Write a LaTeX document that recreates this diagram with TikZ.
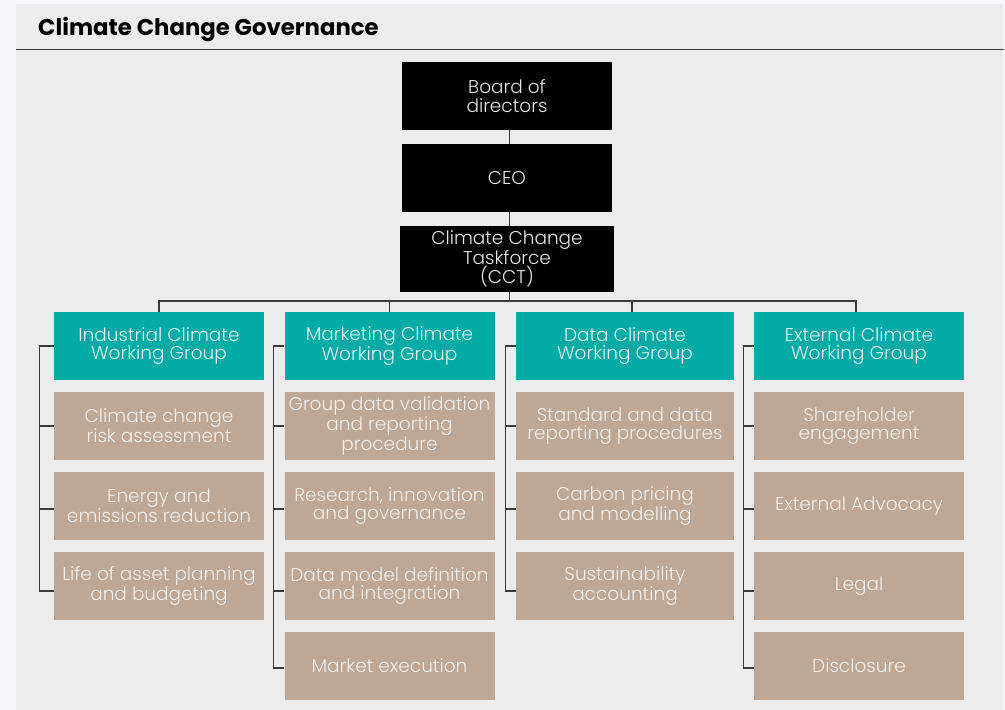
\documentclass[tikz,border=0pt]{standalone}
\usepackage{fontspec}
\setmainfont{Poppins}[UprightFont=* Light, BoldFont=* Bold]
\definecolor{outerbg}{HTML}{F7F7F9}
\definecolor{panelbg}{HTML}{ECECEC}
\definecolor{teal}{HTML}{00AAA5}
\definecolor{tan}{HTML}{BEA794}
\definecolor{linec}{HTML}{3A3A3A}
\definecolor{tantext}{HTML}{F3EEE9}
\definecolor{tealtext}{HTML}{E2F3F2}
\definecolor{blacktext}{HTML}{E8E8E8}
\tikzset{
  boxbase/.style={inner sep=0pt, align=center, font=\fontsize{18.5}{18.6}\selectfont},
  blackbox/.style={boxbase, fill=black, text=blacktext},
  groupbox/.style={boxbase, fill=teal, text=tealtext, minimum width=210pt, minimum height=68pt},
  taskbox/.style={boxbase, fill=tan, text=tantext, minimum width=210pt, minimum height=67.5pt},
  conn/.style={draw=linec, line width=1.2pt}
}
\begin{document}
\begin{tikzpicture}[x=1pt,y=-1pt]
\useasboundingbox (0,0) rectangle (1005,710);
\fill[outerbg] (0,0) rectangle (1005,710);
\fill[panelbg] (16,4) rectangle (1003,710);
\draw[linec, line width=1.3pt] (16,49.5) -- (1004,49.5);
\node[anchor=base west, inner sep=0pt, font=\bfseries\fontsize{22.8}{24}\selectfont] (title) at (38,35) {Climate Change Governance};

% top chain
\node[blackbox, minimum width=210pt, minimum height=67.5pt] (board) at (507,96) {Board of\\directors};
\node[blackbox, minimum width=210pt, minimum height=67.5pt] (ceo) at (507,178) {CEO};
\node[blackbox, minimum width=214pt, minimum height=66pt] (cct) at (507,259) {Climate Change\\Taskforce\\(CCT)};

% groups
\node[groupbox] (ind) at (159,346) {Industrial Climate\\Working Group};
\node[groupbox] (mkt) at (389.5,346) {Marketing Climate\\Working Group};
\node[groupbox, minimum width=218pt] (dat) at (625,346) {Data Climate\\Working Group};
\node[groupbox] (ext) at (859,346) {External Climate\\Working Group};

% industrial tasks
\node[taskbox] (ind1) at (159,426) {Climate change\\risk assessment};
\node[taskbox] (ind2) at (159,506) {Energy and\\emissions reduction};
\node[taskbox] (ind3) at (159,586) {Life of asset planning\\and budgeting};

% marketing tasks
\node[taskbox] (mkt1) at (389.5,426) {Group data validation\\and reporting\\procedure};
\node[taskbox] (mkt2) at (389.5,506) {Research, innovation\\and governance};
\node[taskbox] (mkt3) at (389.5,586) {Data model definition\\and integration};
\node[taskbox] (mkt4) at (389.5,666) {Market execution};

% data tasks
\node[taskbox, minimum width=218pt] (dat1) at (625,426) {Standard and data\\reporting procedures};
\node[taskbox, minimum width=218pt] (dat2) at (625,506) {Carbon pricing\\and modelling};
\node[taskbox, minimum width=218pt] (dat3) at (625,586) {Sustainability\\accounting};

% external tasks
\node[taskbox] (ext1) at (859,426) {Shareholder\\engagement};
\node[taskbox] (ext2) at (859,506) {External Advocacy};
\node[taskbox] (ext3) at (859,586) {Legal};
\node[taskbox] (ext4) at (859,666) {Disclosure};

% top connectors
\draw[conn] ([xshift=2.5pt]board.south) -- ([xshift=2.5pt]ceo.north);
\draw[conn] ([xshift=2.5pt]ceo.south) -- ([xshift=2.5pt]cct.north);
\coordinate (busL) at (159,301);
\coordinate (busR) at (856,301);
\draw[conn] ([xshift=2.5pt]cct.south) -- ([xshift=2.5pt]cct.south |- busL);
\draw[conn] (ind.north) |- (busR) -- ([xshift=-3pt]ext.north);
\draw[conn] (mkt.north) -- (mkt.north |- busL);
\draw[conn] ([xshift=7pt]dat.north) -- ([xshift=7pt]dat.north |- busL);

% industrial bracket
\draw[conn] (ind.west) -| ([xshift=-14pt,yshift=-5pt]ind3.west) -- ([yshift=-5pt]ind3.west);
\draw[conn] ([xshift=-14pt]ind1.west) -- (ind1.west);
\draw[conn] ([xshift=-14pt,yshift=-3pt]ind2.west) -- ([yshift=-3pt]ind2.west);

% marketing bracket
\draw[conn] (mkt.west) -| ([xshift=-11pt,yshift=-2pt]mkt4.west) -- ([yshift=-2pt]mkt4.west);
\draw[conn] ([xshift=-11pt]mkt1.west) -- (mkt1.west);
\draw[conn] ([xshift=-11pt,yshift=-3pt]mkt2.west) -- ([yshift=-3pt]mkt2.west);
\draw[conn] ([xshift=-11pt,yshift=-5pt]mkt3.west) -- ([yshift=-5pt]mkt3.west);

% data bracket
\draw[conn] (dat.west) -| ([xshift=-10pt,yshift=-5pt]dat3.west) -- ([yshift=-5pt]dat3.west);
\draw[conn] ([xshift=-10pt]dat1.west) -- (dat1.west);
\draw[conn] ([xshift=-10pt,yshift=-3pt]dat2.west) -- ([yshift=-3pt]dat2.west);

% external bracket
\draw[conn] (ext.west) -| ([xshift=-10pt,yshift=-2pt]ext4.west) -- ([yshift=-2pt]ext4.west);
\draw[conn] ([xshift=-10pt]ext1.west) -- (ext1.west);
\draw[conn] ([xshift=-10pt,yshift=-3pt]ext2.west) -- ([yshift=-3pt]ext2.west);
\draw[conn] ([xshift=-10pt,yshift=-5pt]ext3.west) -- ([yshift=-5pt]ext3.west);
\end{tikzpicture}
\end{document}
